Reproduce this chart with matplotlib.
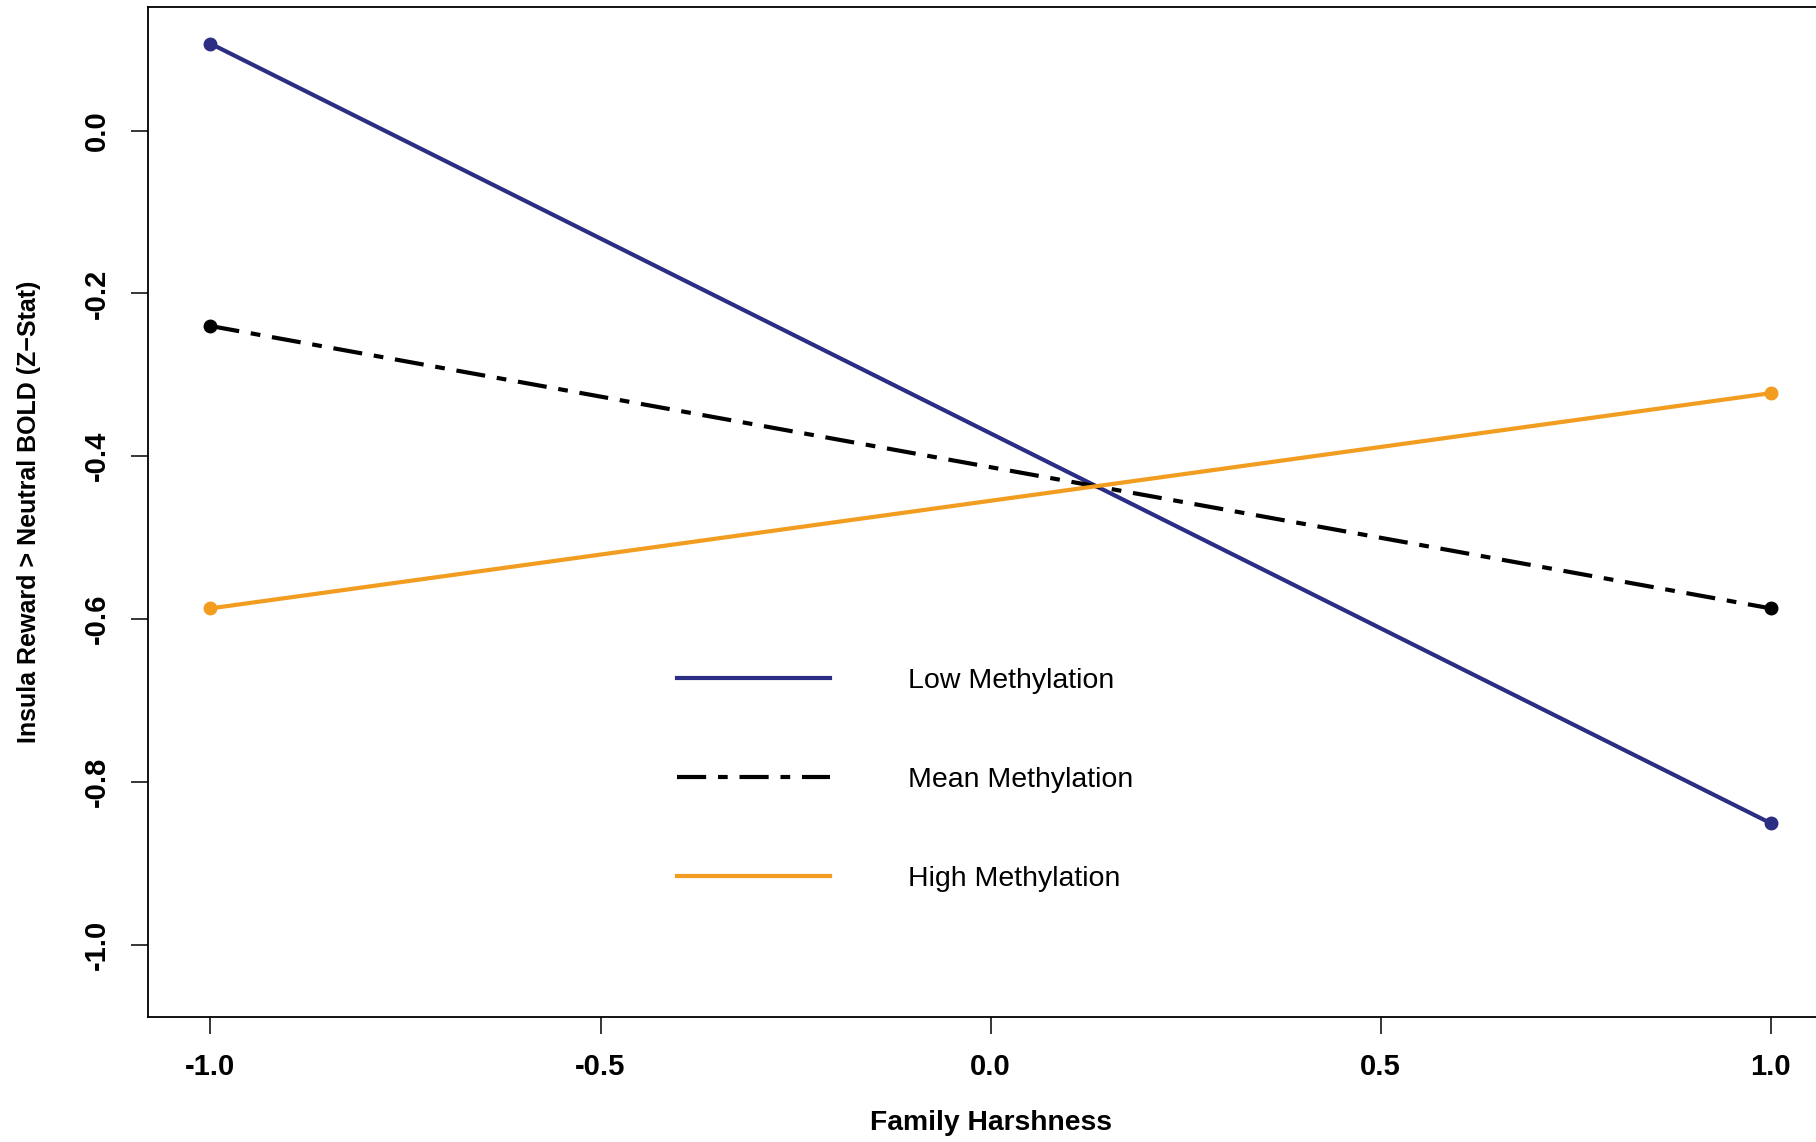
import matplotlib
matplotlib.use("Agg")
import matplotlib.pyplot as plt

# simple slopes: insula response at low / high family harshness
harshness = [-1.0, 1.0]
low_meth = [0.107, -0.851]
mean_meth = [-0.240, -0.587]
high_meth = [-0.587, -0.3225]

series_labels = ["Low Methylation", "Mean Methylation", "High Methylation"]
x_ticks = [-1.0, -0.5, 0.0, 0.5, 1.0]
y_ticks = [0.0, -0.2, -0.4, -0.6, -0.8, -1.0]

navy = "#2B2E83"
orange = "#F29C20"

plt.rcParams["font.family"] = ["Liberation Sans", "DejaVu Sans"]
plt.rcParams["lines.scale_dashes"] = False

fig = plt.figure(figsize=(18.16, 11.42), dpi=100)
# right edge of the box runs off the picture, like the original crop
ax = fig.add_axes([0.0815, 0.1095, 0.928, 0.8844])

lw = 3.0
ax.plot(harshness, low_meth, color=navy, lw=lw, marker="o", ms=9,
        label=series_labels[0])
ax.plot(harshness, mean_meth, color="black", lw=lw, marker="o", ms=9,
        linestyle=(0, (21, 8.5, 7, 8.5)), label=series_labels[1])
ax.plot(harshness, high_meth, color=orange, lw=lw, marker="o", ms=9,
        label=series_labels[2])

ax.set_xlim(-1.08, 1.08)
ax.set_ylim(-1.089, 0.152)

ax.set_xticks(x_ticks)
ax.set_xticklabels([f"{t:.1f}" for t in x_ticks])
ax.set_yticks(y_ticks)
ax.set_yticklabels([f"{t:.1f}" for t in y_ticks], rotation=90, va="center")

ax.tick_params(axis="both", length=12, width=1.1, labelsize=21, pad=14)
ax.tick_params(axis="y", pad=15)
for lab in ax.get_xticklabels() + ax.get_yticklabels():
    lab.set_fontweight("bold")

for side in ["left", "bottom", "top", "right"]:
    ax.spines[side].set_linewidth(1.3)

ax.set_xlabel("Family Harshness", fontsize=20.3, fontweight="bold")
ax.set_ylabel("Insula Reward > Neutral BOLD (Z\u2212Stat)", fontsize=18,
              fontweight="bold")
ax.xaxis.set_label_coords(0.5, -0.105)
ax.xaxis.label.set_verticalalignment("center")
ax.yaxis.set_label_coords(-0.0706, 0.5)
ax.yaxis.label.set_verticalalignment("center")

ax.legend(loc="upper left", bbox_to_anchor=(0.314, 0.3455), frameon=False,
          fontsize=20.5, handlelength=5.37, handletextpad=2.74,
          labelspacing=2.56, borderpad=0, borderaxespad=0, markerscale=0,
          numpoints=1)
# legend keys without the end dots
for h in ax.get_legend().legend_handles:
    h.set_marker("")

fig.savefig("out.png", dpi=100)
